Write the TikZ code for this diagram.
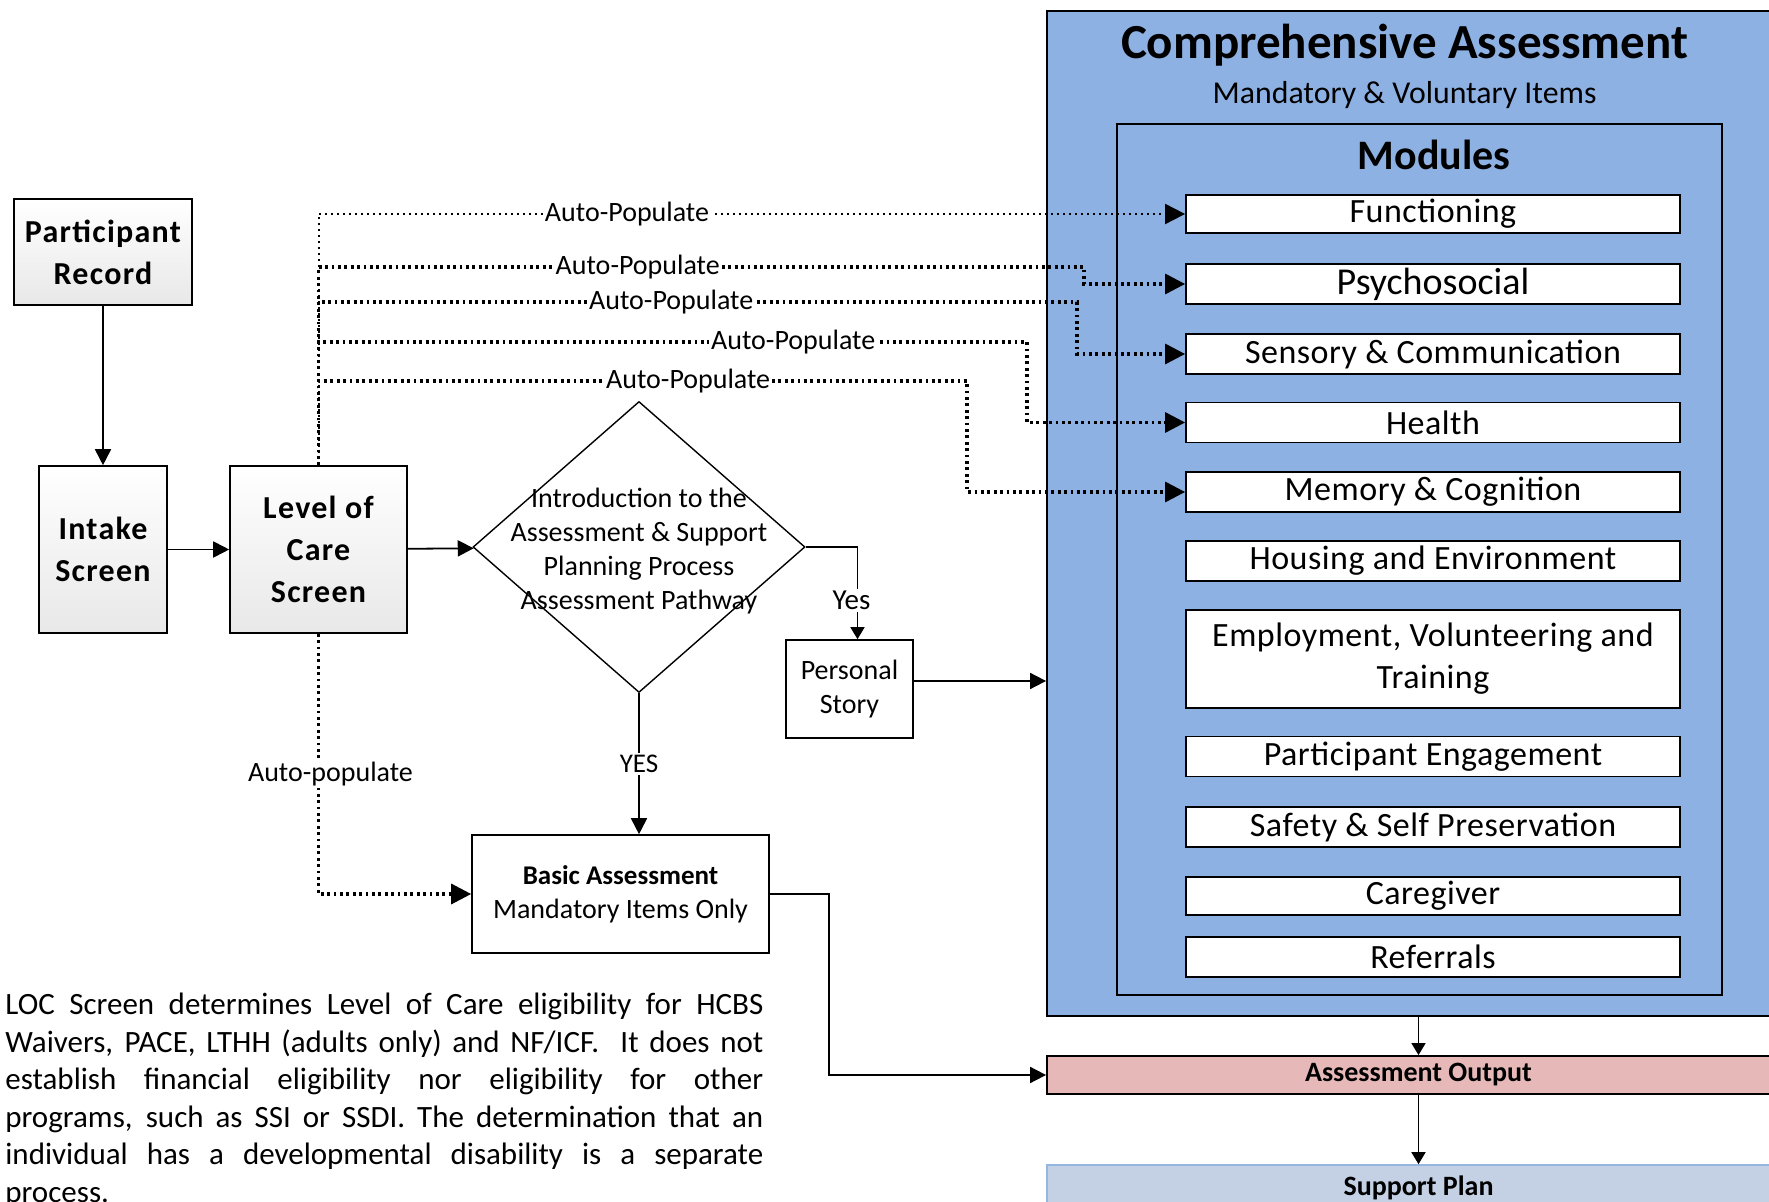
\documentclass[tikz,border=0pt]{standalone}
\usepackage{fontspec}
\setmainfont{Carlito}
\usetikzlibrary{shapes.geometric,arrows.meta,positioning,calc}

\definecolor{compblue}{RGB}{142,177,227}
\definecolor{outpink}{RGB}{230,185,184}
\definecolor{plangray}{RGB}{196,209,228}
\definecolor{planedge}{RGB}{150,182,226}

\newcommand{\fs}[2]{\fontsize{#1}{#2}\selectfont}

\tikzset{
  screenbox/.style={draw, line width=0.8pt, top color=white, bottom color=gray!18,
    font=\fs{16}{21}\bfseries\addfontfeature{LetterSpace=4}, align=center, inner sep=0pt},
  plainbox/.style={draw, line width=0.8pt, fill=white, align=center, inner sep=0pt},
  modbox/.style={draw, line width=0.9pt, fill=white, minimum width=247pt,
    minimum height=20pt, inner sep=0pt, font=\fs{17}{21}\addfontfeature{LetterSpace=1.5}, align=center},
  arr/.style={line width=0.9pt, -{Triangle[length=8pt,width=8pt]}},
  smallarr/.style={line width=0.8pt, -{Triangle[length=6pt,width=7pt]}},
  autopop/.style={line width=1.6pt, dash pattern=on 1.4pt off 1.8pt,
    -{Triangle[length=10pt,width=10pt]}},
  autolbl/.style={fill=white, inner sep=1pt, font=\fs{14}{16}},
}

\begin{document}
\begin{tikzpicture}[x=0.5pt, y=-0.5pt]
        \useasboundingbox (0,0) rectangle (1769,1202);

        % Screens
        \node[screenbox, minimum width=89pt, minimum height=53pt] (part) at (103,252) {Participant\\Record};
        \node[screenbox, minimum width=64pt, minimum height=83.5pt] (intake) at (103,549.5) {Intake\\Screen};
        \node[screenbox, minimum width=88.5pt, minimum height=83.5pt] (loc) at (318.5,549.5) {Level of\\Care\\Screen};

        % Pathway
        \node[draw, diamond, line width=0.7pt, minimum width=166pt, minimum height=145.5pt, inner sep=0pt] (intro) at (639,547) {};
        \node[font=\fs{14}{17}, align=center, yshift=-1.8pt] (introtext) at (intro.center) {Introduction to the\\Assessment \& Support\\Planning Process\\Assessment Pathway};
        \node[plainbox, minimum width=63.5pt, minimum height=49pt, font=\fs{14}{17}] (personal) at (849.5,689) {Personal\\Story};
        \node[plainbox, minimum width=148.5pt, minimum height=59pt, font=\fs{14}{17}] (basic) at (620.5,894) {{\bfseries\fs{13.5}{17}Basic Assessment}\\Mandatory Items Only};

        % Comprehensive assessment
        \node[draw, line width=0.9pt, fill=compblue, minimum width=371.5pt, minimum height=502.5pt, inner sep=0pt] (comp) at (1418.5,513.5) {};
        \node[font=\fs{24.5}{29}\bfseries] (comptitle) at (1404.6,45) {Comprehensive Assessment};
        \node[font=\fs{15.9}{18}] (compsub) at (1404.6,95) {Mandatory \& Voluntary Items};
        \node[draw, line width=0.9pt, minimum width=302.5pt, minimum height=435.5pt, inner sep=0pt] (modules) at (1419.5,559.5) {};
        \node[font=\fs{21}{24}\bfseries] (modtitle) at (1434,155) {Modules};

        % Modules
        \node[modbox, minimum height=19.25pt] (func) at (1433,214) {Functioning};
        \node[modbox, font=\fs{19}{22}] (psycho) at (1433,284) {Psychosocial};
        \node[modbox] (sensory) at (1433,354) {Sensory \& Communication};
        \node[modbox] (health) at (1433,422.5) {Health};
        \node[modbox] (memory) at (1433,492) {Memory \& Cognition};
        \node[modbox] (housing) at (1433,561) {Housing and Environment};
        \node[modbox, minimum height=48.7pt] (employ) at (1433,659) {Employment, Volunteering and\\Training};
        \node[modbox] (engage) at (1433,756.5) {Participant Engagement};
        \node[modbox] (safety) at (1433,827) {Safety \& Self Preservation};
        \node[modbox, minimum height=19.25pt] (caregiver) at (1433,896) {Caregiver};
        \node[modbox] (referrals) at (1433,957) {Referrals};

        % Output
        \node[draw, line width=0.9pt, fill=outpink, minimum width=371.5pt, minimum height=19pt, inner sep=0pt, font=\fs{14}{17}\bfseries] (output) at (1418.5,1075) {Assessment Output};
        \node[fill=plangray, draw=planedge, line width=0.8pt, minimum width=371.5pt, minimum height=22.5pt, inner sep=0pt, font=\fs{14}{17}\bfseries] (support) at (1418.5,1187.5) {Support Plan};

        % Note
        \node[anchor=north west, text width=379pt, align=justify, inner sep=0pt, font=\fs{15.5}{18.75}] (note) at (5,993)
          {LOC Screen determines Level of Care eligibility for HCBS\linebreak
           Waivers, PACE, LTHH (adults only) and NF/ICF.\ \ It does not\linebreak
           establish financial eligibility nor eligibility for other\linebreak
           programs, such as SSI or SSDI. The determination that an\linebreak
           individual has a developmental disability is a separate\linebreak
           process.};

        % Flow
        \draw[arr] (part) -- (intake);
        \draw[arr] (intake) -- (loc);
        \draw[arr] (loc) -- (intro);
        \draw[smallarr] (intro.east) -| node[pos=0.79, fill=white, inner sep=1pt, font=\fs{14.5}{17}, xshift=-3pt] {Yes} ([xshift=4pt]personal.north);
        \draw[arr] (intro.south) -- node[fill=white, inner sep=1pt, font=\fs{13.5}{16}] {YES} (intro.south |- basic.north);
        \draw[arr] ([yshift=4pt]personal.east) -- ([yshift=4pt]personal.east -| comp.west);
        \draw[arr] (basic.east) -- ++(29.5pt,0) |- (output.west);
        \draw[smallarr] (comp.south) -- (output.north);
        \draw[smallarr] (output.south) -- (support.north);

        % Auto-populate
        \draw[autopop] (loc.south) |- node[pos=0.27, autolbl, xshift=6pt] {Auto-populate} (basic.west);
        \draw[autopop, line width=1pt, dash pattern=on 1pt off 2pt] (loc.north) |- node[pos=0.678, autolbl] {Auto-Populate} (func.west);
        \draw[autopop] (loc.north) -- (loc.north |- 0,267) -- node[pos=0.417, autolbl] {Auto-Populate} (1084,267) |- (psycho.west);
        \draw[autopop] (loc.north) -- (loc.north |- 0,302) -- node[pos=0.465, autolbl] {Auto-Populate} (1077,302) |- (sensory.west);
        \draw[autopop] (loc.north) -- (loc.north |- 0,342) -- node[pos=0.67, autolbl] {Auto-Populate} (1027,342) |- (health.west);
        \draw[autopop] (loc.north) -- (loc.north |- 0,381) -- node[pos=0.57, autolbl] {Auto-Populate} (967,381) |- (memory.west);

\end{tikzpicture}
\end{document}
